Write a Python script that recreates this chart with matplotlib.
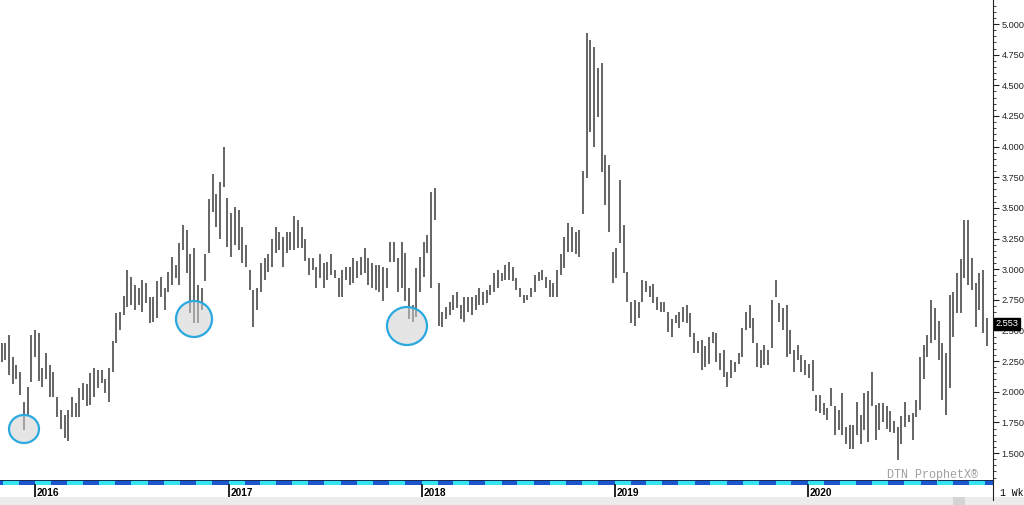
import pandas as pd
import matplotlib
matplotlib.use("Agg")
import matplotlib.pyplot as plt
import matplotlib.dates as mdates
import matplotlib.ticker as mtick
import matplotlib.transforms as mtrans
from matplotlib.patches import Ellipse, Rectangle

# Weekly natural gas bars (high / low), oldest first
highs = [
    2.40, 2.40, 2.46, 2.28, 2.22, 2.16, 1.92, 2.04, 2.46, 2.50,
    2.48, 2.19, 2.32, 2.22, 2.16, 1.96, 1.85, 1.81, 1.85, 1.96,
    1.91, 2.03, 2.07, 2.06, 2.15, 2.19, 2.18, 2.18, 2.10, 2.19,
    2.41, 2.64, 2.65, 2.78, 2.99, 2.94, 2.87, 2.85, 2.91, 2.89,
    2.77, 2.77, 2.90, 2.94, 2.85, 2.98, 3.10, 3.03, 3.21, 3.36,
    3.32, 3.12, 3.17, 2.87, 2.85, 3.12, 3.57, 3.78, 3.61, 3.71,
    4.00, 3.58, 3.46, 3.51, 3.48, 3.34, 3.20, 2.99, 2.83, 2.85,
    3.05, 3.09, 3.12, 3.25, 3.34, 3.30, 3.26, 3.30, 3.30, 3.43,
    3.40, 3.34, 3.25, 3.09, 3.09, 3.02, 3.12, 3.05, 3.06, 3.12,
    2.99, 2.93, 2.99, 3.02, 3.02, 3.09, 3.07, 3.10, 3.17, 3.09,
    3.05, 3.03, 3.03, 3.02, 3.01, 3.22, 3.22, 3.09, 3.22, 3.13,
    2.85, 2.71, 3.01, 3.10, 3.22, 3.28, 3.63, 3.66, 2.89, 2.65,
    2.69, 2.73, 2.79, 2.81, 2.71, 2.77, 2.77, 2.77, 2.79, 2.85,
    2.81, 2.83, 2.87, 2.97, 2.99, 2.97, 3.03, 3.06, 3.02, 2.93,
    2.85, 2.79, 2.79, 2.85, 2.95, 2.98, 2.99, 2.94, 2.91, 2.89,
    2.99, 3.12, 3.26, 3.38, 3.34, 3.30, 3.32, 3.80, 4.93, 4.87,
    4.81, 4.64, 4.68, 3.93, 3.85, 3.14, 3.17, 3.73, 3.36, 2.98,
    2.73, 2.75, 2.73, 2.91, 2.90, 2.86, 2.88, 2.77, 2.73, 2.73,
    2.65, 2.59, 2.63, 2.65, 2.69, 2.71, 2.64, 2.48, 2.41, 2.42,
    2.37, 2.45, 2.49, 2.48, 2.32, 2.34, 2.16, 2.26, 2.24, 2.32,
    2.52, 2.65, 2.71, 2.60, 2.40, 2.34, 2.38, 2.34, 2.75, 2.91,
    2.72, 2.68, 2.71, 2.50, 2.34, 2.38, 2.30, 2.26, 2.23, 2.26,
    1.97, 1.97, 1.91, 1.87, 2.03, 1.88, 1.85, 1.99, 1.71, 1.73,
    1.73, 1.92, 1.81, 1.99, 2.01, 2.16, 1.89, 1.91, 1.91, 1.88,
    1.84, 1.76, 1.71, 1.80, 1.92, 1.81, 1.83, 1.93, 2.28, 2.38,
    2.46, 2.75, 2.68, 2.58, 2.40, 2.32, 2.79, 2.81, 2.97, 3.08,
    3.40, 3.40, 3.09, 2.89, 2.97, 2.99, 2.60,
]
lows = [
    2.24, 2.26, 2.14, 2.06, 2.10, 1.97, 1.69, 1.81, 2.08, 2.28,
    2.09, 2.04, 2.10, 1.96, 1.96, 1.79, 1.70, 1.62, 1.60, 1.79,
    1.79, 1.79, 1.93, 1.88, 1.89, 1.96, 2.03, 2.07, 1.99, 1.92,
    2.16, 2.40, 2.50, 2.63, 2.69, 2.71, 2.67, 2.71, 2.65, 2.72,
    2.56, 2.57, 2.60, 2.77, 2.67, 2.81, 2.87, 2.93, 2.87, 3.16,
    2.97, 2.64, 2.56, 2.56, 2.67, 2.90, 3.13, 3.47, 3.34, 3.25,
    3.67, 3.18, 3.10, 3.20, 3.16, 3.05, 3.02, 2.83, 2.53, 2.67,
    2.81, 2.91, 2.98, 3.02, 3.13, 3.16, 3.02, 3.13, 3.16, 3.16,
    3.17, 3.17, 3.07, 2.95, 2.99, 2.85, 2.93, 2.85, 2.91, 2.95,
    2.93, 2.77, 2.77, 2.91, 2.87, 2.89, 2.93, 2.95, 2.97, 2.87,
    2.85, 2.83, 2.81, 2.74, 2.85, 3.06, 3.06, 2.81, 2.85, 2.74,
    2.59, 2.57, 2.61, 2.81, 2.94, 3.13, 2.85, 3.40, 2.54, 2.53,
    2.59, 2.63, 2.67, 2.68, 2.59, 2.57, 2.65, 2.63, 2.67, 2.71,
    2.71, 2.72, 2.79, 2.81, 2.85, 2.90, 2.91, 2.91, 2.90, 2.83,
    2.77, 2.72, 2.75, 2.77, 2.81, 2.90, 2.91, 2.85, 2.77, 2.77,
    2.77, 2.95, 3.01, 3.14, 3.14, 3.12, 3.10, 3.45, 3.74, 4.12,
    4.00, 4.24, 3.79, 3.52, 3.30, 2.89, 2.93, 3.21, 2.97, 2.73,
    2.56, 2.54, 2.60, 2.73, 2.81, 2.77, 2.72, 2.67, 2.65, 2.65,
    2.49, 2.45, 2.56, 2.52, 2.57, 2.56, 2.45, 2.32, 2.32, 2.18,
    2.20, 2.23, 2.40, 2.24, 2.18, 2.12, 2.04, 2.11, 2.16, 2.23,
    2.28, 2.50, 2.52, 2.40, 2.20, 2.19, 2.22, 2.22, 2.36, 2.77,
    2.57, 2.50, 2.28, 2.31, 2.16, 2.26, 2.16, 2.14, 2.11, 2.01,
    1.84, 1.83, 1.81, 1.77, 1.88, 1.65, 1.69, 1.65, 1.57, 1.53,
    1.53, 1.65, 1.57, 1.69, 1.59, 1.88, 1.61, 1.69, 1.75, 1.70,
    1.67, 1.66, 1.44, 1.57, 1.71, 1.75, 1.61, 1.79, 1.85, 2.10,
    2.28, 2.40, 2.42, 2.26, 1.93, 1.81, 2.03, 2.45, 2.64, 2.64,
    2.93, 2.87, 2.83, 2.53, 2.67, 2.48, 2.37,
]
first_week = "2015-10-30"
last_price = 2.553
years = ["2016", "2017", "2018", "2019", "2020"]
price_ticks = [1.5, 1.75, 2.0, 2.25, 2.5, 2.75, 3.0, 3.25, 3.5, 3.75, 4.0, 4.25, 4.5, 4.75, 5.0]

dates = pd.date_range(first_week, periods=len(highs), freq="W-FRI")

W, H = 1024, 505
fig = plt.figure(figsize=(W / 100, H / 100), dpi=100)
fig.patch.set_facecolor("white")

# main price panel
ax = fig.add_axes([0, 25 / H, 993 / W, 480 / H])
ax.vlines(dates, lows, highs, color="#3a3a3a", linewidth=1.1)
ax.set_xlim(pd.Timestamp("2015-10-27"), pd.Timestamp("2020-12-16"))
ax.set_ylim(1.28, 5.196)

for side in ["top", "left", "bottom"]:
    ax.spines[side].set_visible(False)
ax.spines["right"].set_color("#222222")
ax.spines["right"].set_linewidth(0.8)
ax.set_xticks([])
ax.yaxis.tick_right()
ax.set_yticks(price_ticks)
ax.yaxis.set_minor_locator(mtick.MultipleLocator(0.05))
ax.yaxis.set_major_formatter(mtick.FormatStrFormatter("%.3f"))
ax.tick_params(axis="y", which="major", length=4, width=0.8, pad=2,
               labelsize=6.6, colors="#222222")
ax.tick_params(axis="y", which="minor", length=2, width=0.6, colors="#222222")
for lbl in ax.get_yticklabels():
    lbl.set_fontfamily("Liberation Sans")

# last price tag
ax.text(1.0025, last_price, f"{last_price:.3f}", transform=ax.get_yaxis_transform(),
        ha="left", va="center", fontsize=6.6, color="white", family="Liberation Sans",
        bbox=dict(boxstyle="square,pad=0.15", fc="black", ec="black"), zorder=5,
        clip_on=False)

# month stripe under the chart
band = fig.add_axes([0, 20 / H, 993 / W, 5 / H], sharex=ax)
months = pd.date_range("2015-10-01", "2021-01-01", freq="MS")
for m0, m1 in zip(months[:-1], months[1:]):
    col = "#34e4ee" if m0.month % 2 == 1 else "#1c56cc"
    band.axvspan(m0, m1, color=col, lw=0)
band.set_ylim(0, 1)
band.axis("off")
band.axhline(1, color="#1a2a55", lw=0.7)
band.axhline(0, color="#1a2a55", lw=0.5)

# year ticks and labels
bt = mtrans.blended_transform_factory(ax.transData, fig.transFigure)
for y in years:
    d = pd.Timestamp(f"{y}-01-01")
    fig.add_artist(plt.Line2D([mdates.date2num(d)] * 2, [(H - 485) / H, (H - 498) / H],
                              transform=bt, color="black", lw=1.2))
    fig.text(mdates.date2num(d) + 4, (H - 493) / H, y, transform=bt, ha="left",
             va="center", fontsize=7.3, fontweight="bold", family="Liberation Sans")

# overlay in pixel coordinates for frame elements
ov = fig.add_axes([0, 0, 1, 1], zorder=10)
ov.set_xlim(0, W)
ov.set_ylim(H, 0)
ov.axis("off")
ov.add_patch(Rectangle((0, 497), W, 8, color="#ececec", lw=0))
ov.add_patch(Rectangle((953, 497), 12, 8, color="#d4d4d4", lw=0))
ov.plot([993, 993], [480, 500], color="#222222", lw=0.8)
ov.text(1000, 493, "1 Wk", fontsize=7, family="Liberation Mono", va="center")
ov.text(887, 475, "DTN ProphetX\u00ae", fontsize=8.5, family="Liberation Mono",
        color="#a0a0a0", va="center")

# highlighted lows
for cx, cy, rx, ry in [(24, 429, 15, 14), (194, 319, 18, 18), (407, 326, 20, 19)]:
    ov.add_patch(Ellipse((cx, cy), 2 * rx, 2 * ry, fc=(0.82, 0.82, 0.82, 0.55),
                         ec="#2aa8e0", lw=1.6))

fig.savefig("out.png", dpi=100)
